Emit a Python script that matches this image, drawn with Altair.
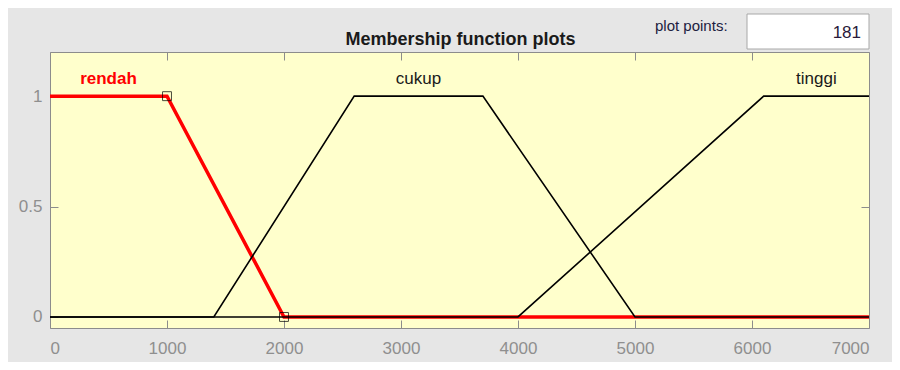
import altair as alt
import pandas as pd

# ---- data ----
mf_names = ["rendah", "cukup", "tinggi"]
rendah_x = [0, 1000, 2000, 7000]
rendah_y = [1, 1, 0, 0]
cukup_x = [0, 1400, 2600, 3700, 5000, 7000]
cukup_y = [0, 0, 1, 1, 0, 0]
tinggi_x = [0, 4000, 6100, 7000]
tinggi_y = [0, 0, 1, 1]
x_ticks = [0, 1000, 2000, 3000, 4000, 5000, 6000, 7000]
y_ticks = [0, 0.5, 1]
selected_points_x = [1000, 2000]
selected_points_y = [1, 0]
label_x = [500, 3150, 6550]
plot_points = "181"
title_text = "Membership function plots"

W, H = 819, 276
FONT = "Liberation Sans"

rows = []
for name, xs, ys in [("rendah", rendah_x, rendah_y), ("cukup", cukup_x, cukup_y), ("tinggi", tinggi_x, tinggi_y)]:
    for i, (a, b) in enumerate(zip(xs, ys)):
        rows.append({"name": name, "x": a, "y": b, "i": i})
df = pd.DataFrame(rows)
df_red = df[df.name == "rendah"]
df_black = df[df.name != "rendah"]
df_sq = pd.DataFrame({"x": selected_points_x, "y": selected_points_y})
df_lab = pd.DataFrame({"name": mf_names, "x": label_x})
dummy = pd.DataFrame({"a": [0]})

xs = alt.Scale(domain=[0, 7000], nice=False, zero=False)
ys = alt.Scale(domain=[-0.05, 1.2], nice=False, zero=False)

tick_col = "#8c8c8c"
lab_col = "#8f8f8f"

x_bottom = alt.Axis(orient="bottom", values=x_ticks, domain=False, grid=False, tickSize=8, offset=-8,
                    tickColor=tick_col, labelColor=lab_col, labelFontSize=17, labelPadding=12,
                    labelFont=FONT, title=None, format="d")
x_top = alt.Axis(orient="top", values=x_ticks, domain=False, grid=False, tickSize=8, offset=-8,
                 tickColor=tick_col, labels=False, title=None)
y_left = alt.Axis(orient="left", values=y_ticks, domain=False, grid=False, tickSize=8, offset=-8,
                  tickColor=tick_col, labelColor=lab_col, labelFontSize=17, labelPadding=8,
                  labelFont=FONT, title=None, format="~g")
y_right = alt.Axis(orient="right", values=y_ticks, domain=False, grid=False, tickSize=8, offset=-8,
                   tickColor=tick_col, labels=False, title=None)

red = alt.Chart(df_red).mark_line(color="#FF0000", strokeWidth=3.5).encode(
    x=alt.X("x:Q", scale=xs, axis=x_bottom),
    y=alt.Y("y:Q", scale=ys, axis=y_left),
    order="i:Q",
)

black = alt.Chart(df_black).mark_line(color="#000000", strokeWidth=1.6).encode(
    x=alt.X("x:Q", scale=xs, axis=x_top),
    y=alt.Y("y:Q", scale=ys, axis=y_right),
    detail="name:N",
    order="i:Q",
)

squares = alt.Chart(df_sq).mark_point(shape="square", filled=False, color="#000000", size=80, strokeWidth=1).encode(
    x=alt.X("x:Q", scale=xs, axis=None),
    y=alt.Y("y:Q", scale=ys, axis=None),
)

lab_red = alt.Chart(df_lab[df_lab.name == "rendah"]).mark_text(
    fontSize=17, font=FONT, fontWeight="bold", color="#FF0000",
    baseline="alphabetic", align="center").encode(
    x=alt.X("x:Q", scale=xs, axis=None), y=alt.value(32), text="name:N")

lab_black = alt.Chart(df_lab[df_lab.name != "rendah"]).mark_text(
    fontSize=17, font=FONT, color="#1a1a1a",
    baseline="alphabetic", align="center").encode(
    x=alt.X("x:Q", scale=xs, axis=None), y=alt.value(32), text="name:N")

title = alt.Chart(dummy).mark_text(text=title_text, fontSize=18, fontWeight="bold", font=FONT,
                                   color="#1a1a1a", align="center", baseline="alphabetic").encode(
    x=alt.value(W / 2 + 1), y=alt.value(-7))

pp_label = alt.Chart(dummy).mark_text(text="plot points:", fontSize=15, font=FONT,
                                      color="#202040", align="left", baseline="alphabetic").encode(
    x=alt.value(605), y=alt.value(-21))

box = alt.Chart(dummy).mark_rect(fill="#FFFFFF", stroke="#a8a8a8", strokeWidth=1).encode(
    x=alt.value(697), x2=alt.value(819), y=alt.value(-38), y2=alt.value(-3))

pp_val = alt.Chart(dummy).mark_text(text=plot_points, fontSize=17, font=FONT,
                                    color="#2a1a3a", align="right", baseline="alphabetic").encode(
    x=alt.value(811), y=alt.value(-14))

chart = alt.layer(red, black, squares, lab_red, lab_black, title, box, pp_label, pp_val).resolve_axis(
    x="independent", y="independent"
).properties(
    width=W, height=H,
    background="#E6E6E6",
    padding={"left": 42, "top": 44, "right": 23, "bottom": 34},
    autosize=alt.AutoSizeParams(type="none"),
).configure_view(
    fill="#FFFFCC", stroke="#8c8c8c", strokeWidth=1
)

chart.save("out.html", embed_options={"renderer": "svg", "actions": False})
